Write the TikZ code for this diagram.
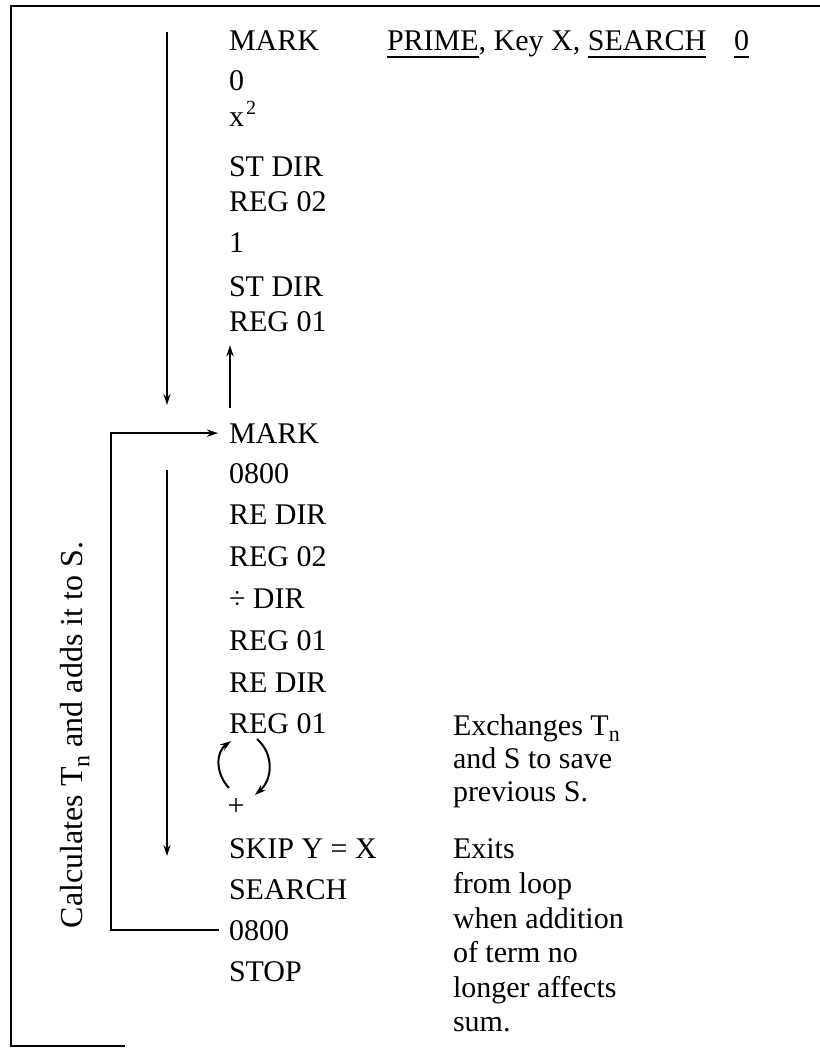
\documentclass[tikz,border=0pt]{standalone}
\usepackage{fontspec}
\setmainfont{Liberation Serif}
\usetikzlibrary{arrows.meta}
\newcommand\uln[1]{\setbox0\hbox{#1}\rlap{\rule[-4pt]{\wd0}{0.9pt}}\box0}
\newcommand\subn{\raisebox{-0.45ex}{\fontsize{11}{11}\selectfont n}}
\newcommand\subnb{\raisebox{-0.45ex}{\fontsize{12}{12}\selectfont n}}
\begin{document}
\begin{tikzpicture}[x=0.5pt,y=-0.5pt, line width=1pt,
  txt/.style={inner sep=0pt, anchor=base west, font=\fontsize{15}{18}\selectfont},
  arr/.style={-{Stealth[length=5.5pt,width=3.6pt]}}]
\useasboundingbox (0,0) rectangle (820,1051);
\draw (820,6) -- (11,6) -- (11,1046) -- (125,1046);
% upper group
\node[txt] (m1) at (228,50) {MARK};
\node[txt] (z1) at (228,90) {0};
\node[txt] (x2) at (228,126) {x\hspace{1pt}\raisebox{0.85ex}{\fontsize{10}{10}\selectfont 2}};
\node[txt] (st1) at (228,176) {ST DIR};
\node[txt] (r02a) at (228,211) {REG 02};
\node[txt] (one) at (228,252) {1};
\node[txt] (st2) at (228,296) {ST DIR};
\node[txt] (r01a) at (228,331) {REG 01};
\node[txt] (prime) at (386,50) {\uln{PRIME}, Key X, \uln{SEARCH}\hspace{14pt}\uln{0}};
% lower group
\node[txt] (m2) at (228,443) {MARK};
\node[txt] (z2) at (228,483) {0800};
\node[txt] (re1) at (228,524) {RE DIR};
\node[txt] (r02b) at (228,566) {REG 02};
\node[txt] (dv) at (228,608) {÷ DIR};
\node[txt] (r01b) at (228,650) {REG 01};
\node[txt] (re2) at (228,692) {RE DIR};
\node[txt] (r01c) at (228,733) {REG 01};
\node[txt, anchor=center] (plus) at (236,807) {+};
\node[txt] (skip) at (228,858) {SKIP Y = X};
\node[txt] (search) at (228,899) {SEARCH};
\node[txt] (z3) at (228,940) {0800};
\node[txt] (stop) at (228,981) {STOP};
% right notes
\node[txt] (e1) at (452,735) {Exchanges T\subn};
\node[txt] (e2) at (452,768) {and S to save};
\node[txt] (e3) at (452,801) {previous S.};
\node[txt] (x1) at (452,858) {Exits};
\node[txt] (x2n) at (452,893) {from loop};
\node[txt] (x3) at (452,928) {when addition};
\node[txt] (x4) at (452,962) {of term no};
\node[txt] (x5) at (452,997) {longer affects};
\node[txt] (x6) at (452,1031) {sum.};
% rotated label
\node[txt, anchor=center, rotate=90, font=\fontsize{16}{19}\selectfont] (calc) at (75,735) {Calculates T\subnb\ and adds it to S.};
% arrows
\coordinate (a1s) at (167,32);
\coordinate (a1e) at (167,405);
\draw[arr] (a1s) -- (a1e);
\coordinate (a2s) at (167,470);
\coordinate (a2e) at (167,856);
\draw[arr] (a2s) -- (a2e);
\draw[arr] ([xshift=1pt,yshift=7pt]m2.north west) -- ([xshift=1pt,yshift=-6.5pt]r01a.south west);
\coordinate (lp) at (111,0);
\draw[arr] ([xshift=-4.5pt]z3.west) -- (z3.west -| lp) |- ([xshift=-5pt]m2.west);
% exchange arrows
\draw[arr] (229,788) .. controls (215,773) and (216,752) .. (231,741);
\draw[arr] (257,739) .. controls (274,754) and (273,779) .. (255,795);
\end{tikzpicture}
\end{document}
